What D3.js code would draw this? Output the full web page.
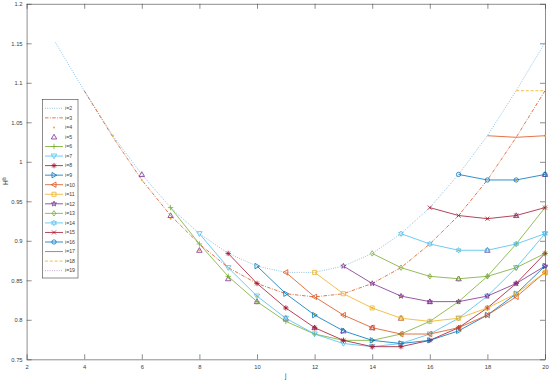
<!doctype html>
<html>
  <head>
    <meta charset="utf-8"/>
    <title>H lb vs j</title>
    <style>
      body, html {
        margin: 0;
        padding: 0;
        background: white;
        font-family: "Liberation Sans", Arial, sans-serif;
      }
      .axis text {
        font-size: 5.8px;
        fill: #404040;
      }
      .axis path, .axis line {
        stroke: #404040;
        stroke-width: 0.6;
      }
      .legend text {
        font-size: 5.2px;
        fill: #404040;
      }
    </style>
    <script src="https://d3js.org/d3.v7.min.js"></script>
  </head>
  <body>
    <svg width="550" height="388"></svg>
    <script>
      // curve i starts at j = i + 1 and runs to j = 20
      var H2  = [1.151, 1.090, 1.033, 0.984, 0.942, 0.909, 0.884, 0.868, 0.860, 0.860, 0.868, 0.884, 0.909, 0.942, 0.984, 1.033, 1.090, 1.151];
      var H3  = [1.090, 1.031, 0.977, 0.932, 0.896, 0.866, 0.846, 0.833, 0.829, 0.833, 0.846, 0.866, 0.896, 0.932, 0.977, 1.031, 1.090];
      var H4  = [1.033, 0.977, 0.928, 0.888, 0.855, 0.830, 0.815, 0.806, 0.806, 0.815, 0.830, 0.855, 0.888, 0.928, 0.977, 1.033];
      var H5  = [0.984, 0.932, 0.888, 0.852, 0.823, 0.802, 0.790, 0.786, 0.790, 0.802, 0.823, 0.852, 0.888, 0.932, 0.984];
      var H6  = [0.942, 0.896, 0.855, 0.823, 0.798, 0.782, 0.774, 0.774, 0.782, 0.798, 0.823, 0.855, 0.896, 0.942];
      var H7  = [0.909, 0.866, 0.830, 0.802, 0.782, 0.770, 0.766, 0.770, 0.782, 0.802, 0.830, 0.866, 0.909];
      var H8  = [0.884, 0.846, 0.815, 0.790, 0.774, 0.766, 0.766, 0.774, 0.790, 0.815, 0.846, 0.884];
      var H9  = [0.868, 0.833, 0.806, 0.786, 0.774, 0.770, 0.774, 0.786, 0.806, 0.833, 0.868];
      var H10 = [0.860, 0.829, 0.806, 0.790, 0.782, 0.782, 0.790, 0.806, 0.829, 0.860];
      var H11 = [0.860, 0.833, 0.815, 0.802, 0.798, 0.802, 0.815, 0.833, 0.860];
      var H12 = [0.868, 0.846, 0.830, 0.823, 0.823, 0.830, 0.846, 0.868];
      var H13 = [0.884, 0.866, 0.855, 0.852, 0.855, 0.866, 0.884];
      var H14 = [0.909, 0.896, 0.888, 0.888, 0.896, 0.909];
      var H15 = [0.942, 0.932, 0.928, 0.932, 0.942];
      var H16 = [0.984, 0.977, 0.977, 0.984];
      var H17 = [1.033, 1.031, 1.033];
      var H18 = [1.090, 1.090];
      var H19 = [1.151];

      var xTicks = [2, 4, 6, 8, 10, 12, 14, 16, 18, 20];
      var yTicks = [0.75, 0.8, 0.85, 0.9, 0.95, 1, 1.05, 1.1, 1.15, 1.2];

      var blue = "#0072BD", orange = "#D95319", yellow = "#EDB120", purple = "#7E2F8E",
          green = "#77AC30", lblue = "#4DBEEE", red = "#A2142F";

      var series = [
        {i: 2,  v: H2,  color: blue,   dash: "0.9,1.4", marker: null, line: true, op: 0.6},
        {i: 3,  v: H3,  color: orange, dash: "3.5,1.4,0.9,1.4", marker: null, line: true},
        {i: 4,  v: H4,  color: yellow, dash: null, marker: ".", line: false},
        {i: 5,  v: H5,  color: purple, dash: null, marker: "^", line: false},
        {i: 6,  v: H6,  color: green,  dash: null, marker: "+", line: true},
        {i: 7,  v: H7,  color: lblue,  dash: null, marker: "v", line: true},
        {i: 8,  v: H8,  color: red,    dash: null, marker: "*", line: true},
        {i: 9,  v: H9,  color: blue,   dash: null, marker: ">", line: true},
        {i: 10, v: H10, color: orange, dash: null, marker: "<", line: true},
        {i: 11, v: H11, color: yellow, dash: null, marker: "s", line: true},
        {i: 12, v: H12, color: purple, dash: null, marker: "p", line: true},
        {i: 13, v: H13, color: green,  dash: null, marker: "d", line: true},
        {i: 14, v: H14, color: lblue,  dash: null, marker: "h", line: true},
        {i: 15, v: H15, color: red,    dash: null, marker: "x", line: true},
        {i: 16, v: H16, color: blue,   dash: null, marker: "o", line: true},
        {i: 17, v: H17, color: orange, dash: null, marker: null, line: true},
        {i: 18, v: H18, color: yellow, dash: "3,1.8", marker: null, line: true},
        {i: 19, v: H19, color: purple, dash: "0.9,1.4", marker: null, line: true, op: 0.6}
      ];

      var svg = d3.select("svg"),
          margin = {top: 3.8, right: 5, bottom: 28.7, left: 26.6},
          width = 545 - margin.left,
          height = 359.3 - margin.top;

      var x = d3.scaleLinear().domain([2, 20]).range([0, width]),
          y = d3.scaleLinear().domain([0.75, 1.2]).range([height, 0]);

      var g = svg.append("g")
        .attr("transform", "translate(" + margin.left + "," + margin.top + ")");

      // axes box, ticks inside on all four sides
      g.append("g").attr("class", "axis")
        .attr("transform", "translate(0," + height + ")")
        .call(d3.axisBottom(x).tickValues(xTicks).tickSize(-5).tickPadding(6).tickSizeOuter(0));
      g.append("g").attr("class", "axis")
        .call(d3.axisTop(x).tickValues(xTicks).tickSize(-5).tickSizeOuter(0).tickFormat(""));
      g.append("g").attr("class", "axis")
        .call(d3.axisLeft(y).tickValues(yTicks).tickSize(-5).tickPadding(4).tickSizeOuter(0)
          .tickFormat(function(d) { return d3.format("")(+d.toFixed(2)); }));
      g.append("g").attr("class", "axis")
        .attr("transform", "translate(" + width + ",0)")
        .call(d3.axisRight(y).tickValues(yTicks).tickSize(-5).tickSizeOuter(0).tickFormat(""));

      function markerPath(type, s) {
        var p = d3.path(), k, a, r;
        if (type == "^") { p.moveTo(0, -s); p.lineTo(s, s * 0.75); p.lineTo(-s, s * 0.75); p.closePath(); }
        else if (type == "v") { p.moveTo(0, s); p.lineTo(s, -s * 0.75); p.lineTo(-s, -s * 0.75); p.closePath(); }
        else if (type == ">") { p.moveTo(s, 0); p.lineTo(-s * 0.75, -s); p.lineTo(-s * 0.75, s); p.closePath(); }
        else if (type == "<") { p.moveTo(-s, 0); p.lineTo(s * 0.75, -s); p.lineTo(s * 0.75, s); p.closePath(); }
        else if (type == "+") { p.moveTo(-s, 0); p.lineTo(s, 0); p.moveTo(0, -s); p.lineTo(0, s); }
        else if (type == "x") { k = s * 0.75; p.moveTo(-k, -k); p.lineTo(k, k); p.moveTo(-k, k); p.lineTo(k, -k); }
        else if (type == "*") {
          p.moveTo(-s, 0); p.lineTo(s, 0); p.moveTo(0, -s); p.lineTo(0, s);
          k = s * 0.7; p.moveTo(-k, -k); p.lineTo(k, k); p.moveTo(-k, k); p.lineTo(k, -k);
        }
        else if (type == "s") { k = s * 0.75; p.rect(-k, -k, 2 * k, 2 * k); }
        else if (type == "d") { p.moveTo(0, -s); p.lineTo(s * 0.7, 0); p.lineTo(0, s); p.lineTo(-s * 0.7, 0); p.closePath(); }
        else if (type == "o") { p.arc(0, 0, s * 0.8, 0, 2 * Math.PI); }
        else if (type == "p" || type == "h") {
          var n = type == "p" ? 5 : 6;
          for (k = 0; k < 2 * n; k++) {
            a = -Math.PI / 2 + k * Math.PI / n;
            r = k % 2 == 0 ? s : s * (type == "p" ? 0.42 : 0.55);
            if (k == 0) p.moveTo(r * Math.cos(a), r * Math.sin(a));
            else p.lineTo(r * Math.cos(a), r * Math.sin(a));
          }
          p.closePath();
        }
        return p.toString();
      }

      var line = d3.line()
        .x(function(d) { return x(d.j); })
        .y(function(d) { return y(d.h); });

      series.forEach(function(s) {
        var pts = s.v.map(function(h, k) { return {j: s.i + 1 + k, h: h}; });
        var sg = g.append("g");
        if (s.line) {
          sg.append("path")
            .datum(pts)
            .attr("d", line)
            .attr("fill", "none")
            .attr("stroke", s.color)
            .attr("stroke-opacity", s.op || 1)
            .attr("stroke-width", 0.8)
            .attr("stroke-dasharray", s.dash);
        }
        if (s.marker == ".") {
          sg.selectAll("circle").data(pts).enter().append("circle")
            .attr("cx", function(d) { return x(d.j); })
            .attr("cy", function(d) { return y(d.h); })
            .attr("r", 1)
            .attr("fill", s.color);
        } else if (s.marker) {
          sg.selectAll(".mk").data(pts).enter().append("path")
            .attr("class", "mk")
            .attr("transform", function(d) { return "translate(" + x(d.j) + "," + y(d.h) + ")"; })
            .attr("d", markerPath(s.marker, 2.7))
            .attr("fill", "none")
            .attr("stroke", s.color)
            .attr("stroke-width", 0.8);
        }
      });

      // legend
      var lg = svg.append("g").attr("class", "legend");
      lg.append("rect")
        .attr("x", 42.5).attr("y", 99.5)
        .attr("width", 35.5).attr("height", 178.5)
        .attr("fill", "white")
        .attr("stroke", "#404040")
        .attr("stroke-width", 0.6);

      series.forEach(function(s, k) {
        var ly = 108.3 + k * 9.55;
        var e = lg.append("g");
        if (s.line) {
          e.append("line")
            .attr("x1", 45).attr("x2", 63)
            .attr("y1", ly).attr("y2", ly)
            .attr("stroke", s.color)
            .attr("stroke-opacity", s.op || 1)
            .attr("stroke-width", 0.8)
            .attr("stroke-dasharray", s.dash);
        }
        if (s.marker == ".") {
          e.append("circle").attr("cx", 54).attr("cy", ly).attr("r", 1).attr("fill", s.color);
        } else if (s.marker) {
          e.append("path")
            .attr("transform", "translate(54," + ly + ")")
            .attr("d", markerPath(s.marker, 2.7))
            .attr("fill", "none")
            .attr("stroke", s.color)
            .attr("stroke-width", 0.8);
        }
        e.append("text")
          .attr("x", 65).attr("y", ly)
          .attr("dy", "0.35em")
          .text("i=" + s.i);
      });

      // axis labels
      svg.append("text")
        .attr("x", margin.left + width / 2)
        .attr("y", 378)
        .attr("text-anchor", "middle")
        .style("font-size", "6.5px")
        .style("fill", "#404040")
        .text("j");

      var yl = svg.append("text")
        .attr("transform", "translate(8,181) rotate(-90)")
        .attr("text-anchor", "middle")
        .style("font-size", "6.5px")
        .style("fill", "#404040");
      yl.append("tspan").text("H");
      yl.append("tspan").attr("dy", "-0.45em").style("font-size", "4.5px").text("lb");
    </script>
  </body>
</html>
